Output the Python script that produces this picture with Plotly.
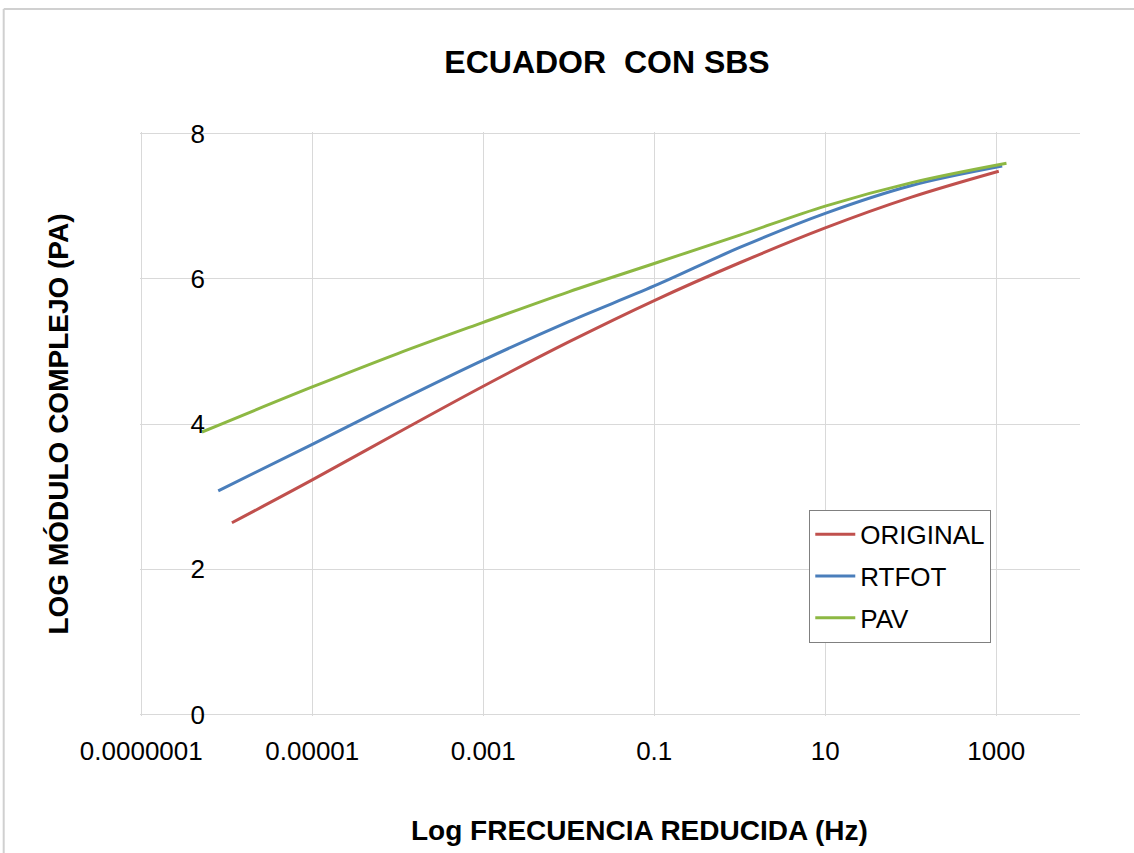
import plotly.graph_objects as go

# Data (x = reduced frequency in Hz, y = log complex modulus)
x_original = [10**-5.94, 1e-5, 1e-4, 1e-3, 1e-2, 1e-1, 1e0, 1e1, 1e2, 10**3.03]
y_original = [2.64, 3.23, 3.88, 4.52, 5.13, 5.70, 6.22, 6.70, 7.12, 7.48]

x_rtfot = [10**-6.10, 1e-5, 1e-4, 1e-3, 1e-2, 1e-1, 1e0, 1e1, 1e2, 10**3.07]
y_rtfot = [3.08, 3.72, 4.31, 4.88, 5.41, 5.90, 6.43, 6.90, 7.28, 7.55]

x_pav = [10**-6.29, 1e-5, 1e-4, 1e-3, 1e-2, 1e-1, 1e0, 1e1, 1e2, 10**3.12]
y_pav = [3.89, 4.51, 4.97, 5.40, 5.82, 6.21, 6.60, 7.00, 7.32, 7.59]

x_tickvals = [1e-7, 1e-5, 1e-3, 1e-1, 1e1, 1e3]
x_ticktext = ["0.0000001", "0.00001", "0.001", "0.1", "10", "1000"]
y_tickvals = [0, 2, 4, 6, 8]
y_range = [-0.02, 8.02]
x_range_log = [-7.015, 3.98]

# (name, x, y, colour, y-axis) -- both y axes share the identical range;
# the second one only carries the tick labels placed inside the plot as in the reference
series = [
    ("ORIGINAL", x_original, y_original, "#C0504D", "y"),
    ("RTFOT", x_rtfot, y_rtfot, "#4A7EBB", "y"),
    ("PAV", x_pav, y_pav, "#8DB843", "y2"),
]

fig = go.Figure()
for name, xs, ys, col, yax in series:
    fig.add_trace(go.Scatter(x=xs, y=ys, name=name, mode="lines", legendgroup=name,
                             xaxis="x", yaxis=yax,
                             line=dict(color=col, width=3, shape="spline")))

font = "Liberation Sans, Arial, sans-serif"
fig.update_layout(
    width=1134, height=853,
    margin=dict(l=140, r=54, t=132, b=137),
    paper_bgcolor="white", plot_bgcolor="white",
    font=dict(family=font, color="#000000", size=26),
    title=dict(text="<b>ECUADOR\u00a0 CON SBS</b>", x=(607 - 140) / 940, xref="paper",
               xanchor="center", y=1 - 62 / 853, yanchor="middle",
               font=dict(size=32, family=font)),
    xaxis=dict(type="log", range=x_range_log, tickvals=x_tickvals, ticktext=x_ticktext,
               showgrid=True, gridcolor="#D9D9D9", gridwidth=1, zeroline=False,
               showline=False, ticks="outside", ticklen=12, tickcolor="rgba(0,0,0,0)",
               tickfont=dict(size=26)),
    yaxis=dict(range=y_range, tickvals=y_tickvals, showgrid=True, gridcolor="#D9D9D9",
               gridwidth=1, zeroline=False, showline=False, showticklabels=False,
               ticks="",
               title=dict(text="<b>LOG MÓDULO COMPLEJO (PA)</b>", standoff=62,
                          font=dict(size=28))),
    yaxis2=dict(range=y_range, tickvals=y_tickvals, overlaying="y", anchor="free",
                position=(205 - 140) / 940, side="left", showgrid=False,
                zeroline=False, showline=False, ticks="", tickfont=dict(size=26)),
    legend=dict(x=0.712, y=0.353, xanchor="left", yanchor="top",
                bgcolor="white", bordercolor="#808080", borderwidth=1,
                font=dict(size=26), itemwidth=40, tracegroupgap=5,
                traceorder="grouped"),
    showlegend=True,
)

# x-axis title (offset slightly right of the plot centre, as in the reference)
fig.add_annotation(text="<b>Log FRECUENCIA REDUCIDA (Hz)</b>", xref="paper", yref="paper",
                   x=(639 - 140) / 940, y=-(830 - 716) / 584, xanchor="center",
                   yanchor="middle", showarrow=False, font=dict(size=28, family=font))

# outer chart border (top and left edges visible in reference)
fig.add_shape(type="line", xref="paper", yref="paper", x0=-0.145, x1=1.1, y0=1.2106, y1=1.2106,
              line=dict(color="#D0D0D0", width=2))
fig.add_shape(type="line", xref="paper", yref="paper", x0=-0.145, x1=-0.145, y0=1.2106, y1=-0.3,
              line=dict(color="#D0D0D0", width=2))

fig.write_html("out.html")
